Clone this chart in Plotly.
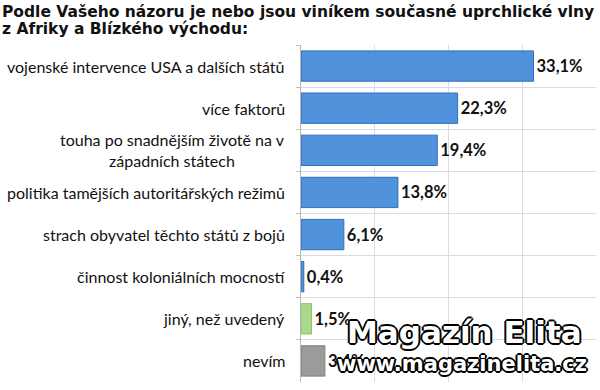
import plotly.graph_objects as go

categories = [
    "vojenské intervence USA a dalších států",
    "více faktorů",
    "touha po snadnějším životě na v<br>západních státech",
    "politika tamějších autoritářských režimů",
    "strach obyvatel těchto států z bojů",
    "činnost koloniálních mocností",
    "jiný, než uvedený",
    "nevím",
]
values = [33.1, 22.3, 19.4, 13.8, 6.1, 0.4, 1.5, 3.4]
bar_colors = ["#5092dc"] * 6 + ["#a9d98c", "#9b9b9b"]
line_colors = ["#2f6fbf"] * 6 + ["#8cc46c", "#7f7f7f"]
labels = [f"{v:.1f}".replace(".", ",") + "%" for v in values]
title_lines = ["Podle Vašeho názoru je nebo jsou viníkem současné uprchlické vlny",
               "z Afriky a Blízkého východu:"]

fig = go.Figure()
fig.add_trace(go.Bar(
    x=values, y=categories, orientation="h",
    marker=dict(color=bar_colors, line=dict(color=line_colors, width=1)),
    text=labels, textposition="outside", cliponaxis=False,
    textfont=dict(family="Lato", size=16.5, color="#111111", weight="bold"),
    hoverinfo="skip",
))

for c in categories:
    fig.add_annotation(
        x=0, y=c, xref="paper", yref="y", xanchor="right", xshift=-14,
        text=c, showarrow=False, align="center",
        font=dict(family="Lato", size=16, color="#111111"),
    )

for i, line in enumerate(title_lines):
    fig.add_annotation(
        x=0, y=1, xref="paper", yref="paper", xanchor="left", yanchor="top",
        xshift=-301, yshift=44 - 17 * i, text=line, showarrow=False, align="left",
        font=dict(family="DejaVu Sans", size=15.5, color="#111111", weight="bold"),
    )

outline = "1px 1px 0 #000, -1px -1px 0 #000, 1px -1px 0 #000, -1px 1px 0 #000, 2px 0 0 #000, -2px 0 0 #000, 0 2px 0 #000, 0 -2px 0 #000"
fig.add_annotation(
    x=0.958, y=0.148, xref="paper", yref="paper", xanchor="right", yanchor="middle",
    text="Magazín Elita", showarrow=False,
    font=dict(family="DejaVu Sans", size=31, color="#ffffff", weight="bold", shadow=outline),
)
fig.add_annotation(
    x=0.975, y=0.053, xref="paper", yref="paper", xanchor="right", yanchor="middle",
    text="www.magazinelita.cz", showarrow=False,
    font=dict(family="DejaVu Sans", size=21, color="#ffffff", weight="bold", shadow=outline),
)

fig.update_layout(
    width=600, height=390,
    margin=dict(l=301, r=4, t=45, b=8),
    paper_bgcolor="white", plot_bgcolor="white",
    showlegend=False, bargap=0.28,
    xaxis=dict(range=[0, 42], dtick=10.5, showticklabels=False, showgrid=True,
               gridcolor="#d6dde7", gridwidth=1, zeroline=False, showline=False),
    yaxis=dict(autorange="reversed", showticklabels=False, tickson="boundaries",
               ticks="outside", ticklen=4, tickcolor="#c0c0c0",
               showgrid=True, gridcolor="#d6dde7", showline=True, linecolor="#b8b8b8"),
)

fig.write_html("out.html", config={"displayModeBar": False},
               post_script="document.body.style.margin='0';")
